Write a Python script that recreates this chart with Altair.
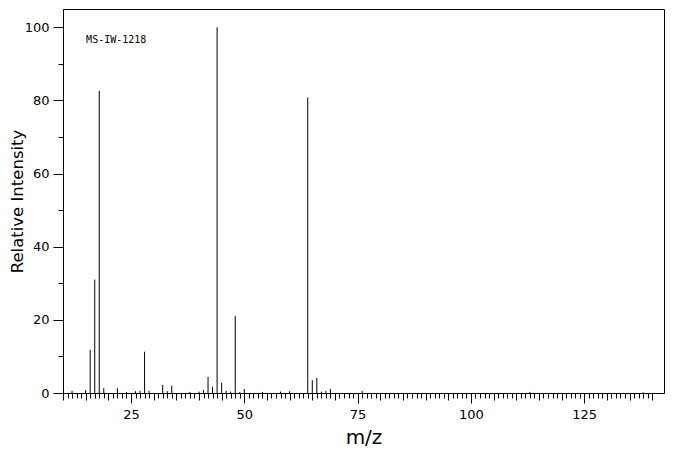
import altair as alt
import pandas as pd

mz = [12, 15, 16, 17, 18, 19, 22, 24, 26, 27, 28, 29, 32, 33, 34, 38, 40, 41, 42, 43,
      44, 45, 46, 47, 48, 49, 50, 54, 58, 60, 64, 65, 66, 67, 68, 69, 76, 113, 138]
intensity = [0.6, 0.8, 11.8, 31.0, 82.6, 1.3, 1.3, 0.3, 0.5, 0.6, 11.3, 0.6, 2.2, 0.5, 2.0, 0.3, 0.4, 0.8, 4.4, 1.7,
             100.0, 2.8, 0.6, 0.4, 21.1, 0.3, 1.1, 0.3, 0.4, 0.5, 80.8, 3.5, 4.1, 0.4, 0.6, 1.1, 0.6, 0.3, 0.2]

x_major = list(range(25, 141, 25))
x_medium = list(range(10, 141, 5))
x_minor = list(range(10, 141, 1))
y_major = list(range(0, 101, 20))
y_minor = list(range(0, 101, 10))
label_text = ["MS-IW-1218"]
label_mz = [15.1]
label_int = [96.4]

df = pd.DataFrame({"mz": mz, "intensity": intensity})
df["base"] = 0
lab = pd.DataFrame({"mz": label_mz, "intensity": label_int, "text": label_text})

FONT = "DejaVu Sans"

xscale = alt.Scale(domain=[10, 142.6], nice=False, zero=False)
yscale = alt.Scale(domain=[0, 105.0], nice=False)

bars = alt.Chart(df).mark_rule(color="black", strokeWidth=1).encode(
    x=alt.X("mz:Q", scale=xscale, title="m/z",
            axis=alt.Axis(orient="bottom", values=x_major, tickSize=10,
                          tickColor="black", domainColor="black", labelColor="black",
                          labelFont=FONT, labelFontSize=13, labelPadding=5,
                          labelFlush=False, labelOverlap=False,
                          titleFont=FONT, titleFontSize=20, titleFontWeight="normal",
                          titleColor="black", titleBaseline="alphabetic", titleY=50,
                          grid=False)),
    y=alt.Y("intensity:Q", scale=yscale, title="Relative Intensity",
            axis=alt.Axis(orient="left", values=y_major, tickSize=10,
                          tickColor="black", domainColor="black", labelColor="black",
                          labelFont=FONT, labelFontSize=13, labelPadding=4,
                          labelFlush=False,
                          titleFont=FONT, titleFontSize=16.5, titleFontWeight="normal",
                          titleColor="black", titleBaseline="top", titleX=-54,
                          grid=False)),
    y2="base:Q",
)

medium = alt.Chart(df).mark_rule(opacity=0).encode(
    x=alt.X("mz:Q", scale=xscale, title=None,
            axis=alt.Axis(orient="bottom", values=x_medium, tickSize=7, tickColor="black",
                          labels=False, domain=False, grid=False)),
    y=alt.Y("intensity:Q", scale=yscale, title=None,
            axis=alt.Axis(orient="left", values=y_minor, tickSize=5, tickColor="black",
                          labels=False, domain=False, grid=False)),
)

minor = alt.Chart(df).mark_rule(opacity=0).encode(
    x=alt.X("mz:Q", scale=xscale, title=None,
            axis=alt.Axis(orient="bottom", values=x_minor, tickSize=5, tickColor="black",
                          labels=False, domain=False, grid=False)),
)

text = alt.Chart(lab).mark_text(font="DejaVu Sans Mono", fontSize=10, align="left",
                                baseline="middle", color="black").encode(
    x=alt.X("mz:Q", scale=xscale, axis=None),
    y=alt.Y("intensity:Q", scale=yscale, axis=None),
    text="text:N")

chart = alt.layer(bars, medium, minor, text).resolve_axis(
    x="independent", y="independent"
).properties(
    width=601, height=384,
    autosize=alt.AutoSizeParams(type="none"),
    padding={"left": 55, "top": 1, "right": 4, "bottom": 54},
    background="white",
).configure_view(stroke="black", strokeWidth=1)

chart.save("out.html", embed_options={"renderer": "svg", "actions": False})
